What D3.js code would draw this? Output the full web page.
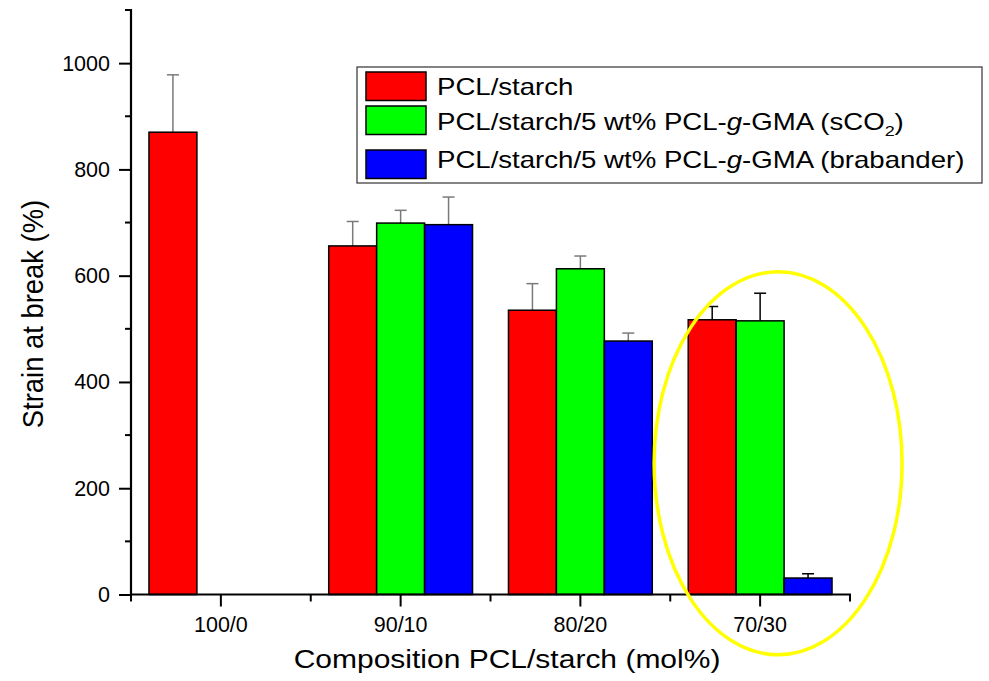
<!DOCTYPE html>
<html>
<head>
<meta charset="utf-8">
<script src="https://cdn.jsdelivr.net/npm/d3@7"></script>
<style>
  html, body { margin: 0; padding: 0; background: #fff; }
  svg { display: block; font-family: "Liberation Sans", Arial, sans-serif; }
</style>
</head>
<body>
<svg id="chart" width="989" height="681"></svg>
<script>
// ---- data ----
const categories = ["100/0", "90/10", "80/20", "70/30"];
const seriesNames = ["PCL/starch", "PCL/starch/5 wt% PCL-g-GMA (sCO2)", "PCL/starch/5 wt% PCL-g-GMA (brabander)"];
const pclStarch   = [870, 656, 535, 517];
const pclScCO2    = [null, 699, 613, 515];
const pclBrab     = [null, 696, 477, 31];
const errPclStarch = [108, 46, 50, 25];
const errScCO2     = [null, 24, 24, 52];
const errBrab      = [null, 52, 15, 8];
const yTicksMajor = [0, 200, 400, 600, 800, 1000];
const yTicksMinor = [100, 300, 500, 700, 900, 1100];

// ---- styles ----
const colors = ["#ff0000", "#00ff00", "#0000ff"];
const errColors = ["#7a7a7a", "#7a7a7a", "#7a7a7a", "#000000"];

(function () {
const svg = d3.select("#chart");
const mLeft = 131, mRight = 850, mTop = 10, mBottom = 594.5;

const y = d3.scaleLinear().domain([0, 1100]).range([mBottom, mTop]);
const x = d3.scaleBand().domain(categories).range([mLeft, mRight]).padding(0);
const bw = x.bandwidth();
const x1 = d3.scaleBand().domain(d3.range(3)).range([bw * 0.1, bw * 0.9]).padding(0);

const values = [pclStarch, pclScCO2, pclBrab];
const errs = [errPclStarch, errScCO2, errBrab];
const bars = [];
categories.forEach((c, ci) => {
  values.forEach((arr, si) => {
    if (arr[ci] != null) bars.push({c, ci, si, v: arr[ci], e: errs[si][ci]});
  });
});

// error bars (drawn first, behind bars)
const eg = svg.append("g");
bars.forEach(d => {
  const cx = x(d.c) + x1(d.si) + x1.bandwidth() / 2;
  const col = errColors[d.ci];
  eg.append("line").attr("x1", cx).attr("x2", cx)
    .attr("y1", y(d.v)).attr("y2", y(d.v + d.e))
    .attr("stroke", col).attr("stroke-width", 1.5);
  eg.append("line").attr("x1", cx - 6).attr("x2", cx + 6)
    .attr("y1", y(d.v + d.e)).attr("y2", y(d.v + d.e))
    .attr("stroke", col).attr("stroke-width", 1.5);
});

// bars
svg.append("g").selectAll("rect").data(bars).join("rect")
  .attr("x", d => x(d.c) + x1(d.si))
  .attr("width", x1.bandwidth())
  .attr("y", d => y(d.v))
  .attr("height", d => y(0) - y(d.v))
  .attr("fill", d => colors[d.si])
  .attr("stroke", "#000")
  .attr("stroke-width", 1.5);

// y axis
const yAxis = d3.axisLeft(y).tickValues(yTicksMajor).tickFormat(d3.format("d"))
  .tickSize(12).tickPadding(9).tickSizeOuter(0);
const gy = svg.append("g").attr("transform", `translate(${mLeft},0)`).call(yAxis);
gy.select(".domain").remove();
gy.selectAll(".tick line").attr("stroke", "#000").attr("stroke-width", 2);
gy.selectAll(".tick text").attr("font-size", 21.5).attr("fill", "#000")
  .attr("font-family", "Liberation Sans, Arial, sans-serif");
gy.append("g").selectAll("line").data(yTicksMinor).join("line")
  .attr("x1", -6).attr("x2", 0).attr("y1", d => y(d)).attr("y2", d => y(d))
  .attr("stroke", "#000").attr("stroke-width", 2);
gy.append("line").attr("x1", 0).attr("x2", 0).attr("y1", mTop - 1).attr("y2", mBottom + 1)
  .attr("stroke", "#000").attr("stroke-width", 2.2);

// x axis
const xAxis = d3.axisBottom(x).tickSize(12).tickPadding(10).tickSizeOuter(0);
const gx = svg.append("g").attr("transform", `translate(0,${mBottom})`).call(xAxis);
gx.select(".domain").remove();
gx.selectAll(".tick line").attr("stroke", "#000").attr("stroke-width", 2);
gx.selectAll(".tick text").attr("font-size", 21.5).attr("fill", "#000")
  .attr("font-family", "Liberation Sans, Arial, sans-serif");
const bounds = categories.map(c => x(c)).concat([mRight]);
gx.append("g").selectAll("line").data(bounds).join("line")
  .attr("x1", d => d).attr("x2", d => d).attr("y1", 0).attr("y2", 7)
  .attr("stroke", "#000").attr("stroke-width", 2);
gx.append("line").attr("x1", mLeft - 1).attr("x2", mRight + 1).attr("y1", 0).attr("y2", 0)
  .attr("stroke", "#000").attr("stroke-width", 2.2);

// axis titles
svg.append("g").attr("transform", `translate(507,668) scale(1.2,1)`)
  .append("text").attr("text-anchor", "middle").attr("font-size", 25).attr("fill", "#000")
  .text("Composition PCL/starch (mol%)");
svg.append("g").attr("transform", `translate(43,314) rotate(-90) scale(1,1.1)`)
  .append("text").attr("text-anchor", "middle").attr("font-size", 27.4).attr("fill", "#000")
  .text("Strain at break (%)");

// legend
const lg = svg.append("g");
lg.append("rect").attr("x", 357).attr("y", 67).attr("width", 625).attr("height", 116)
  .attr("fill", "#fff").attr("stroke", "#333").attr("stroke-width", 1.2);
const swY = [72, 106, 150];
const txtY = [95, 130, 168];
seriesNames.forEach((name, i) => {
  lg.append("rect").attr("x", 366).attr("y", swY[i]).attr("width", 60).attr("height", 28.5)
    .attr("fill", colors[i]).attr("stroke", "#000").attr("stroke-width", 1.5);
  const t = lg.append("g").attr("transform", `translate(437,${txtY[i]}) scale(1.2,1)`)
    .append("text").attr("font-size", 23).attr("fill", "#000");
  if (i === 0) {
    t.text(name);
  } else {
    t.append("tspan").text("PCL/starch/5 wt% PCL-");
    t.append("tspan").attr("font-style", "italic").text("g");
    if (i === 1) {
      t.append("tspan").text("-GMA (sCO");
      t.append("tspan").attr("font-size", 15).attr("dy", 6).text("2");
      t.append("tspan").attr("dy", -6).text(")");
    } else {
      t.append("tspan").text("-GMA (brabander)");
    }
  }
});

// highlight ellipse around 70/30
svg.append("ellipse")
  .attr("cx", x("70/30") + bw * 0.6)
  .attr("cy", y(247))
  .attr("rx", 124).attr("ry", 191.5)
  .attr("fill", "none").attr("stroke", "#ffff00").attr("stroke-width", 3.5);
})();
</script>
</body>
</html>
